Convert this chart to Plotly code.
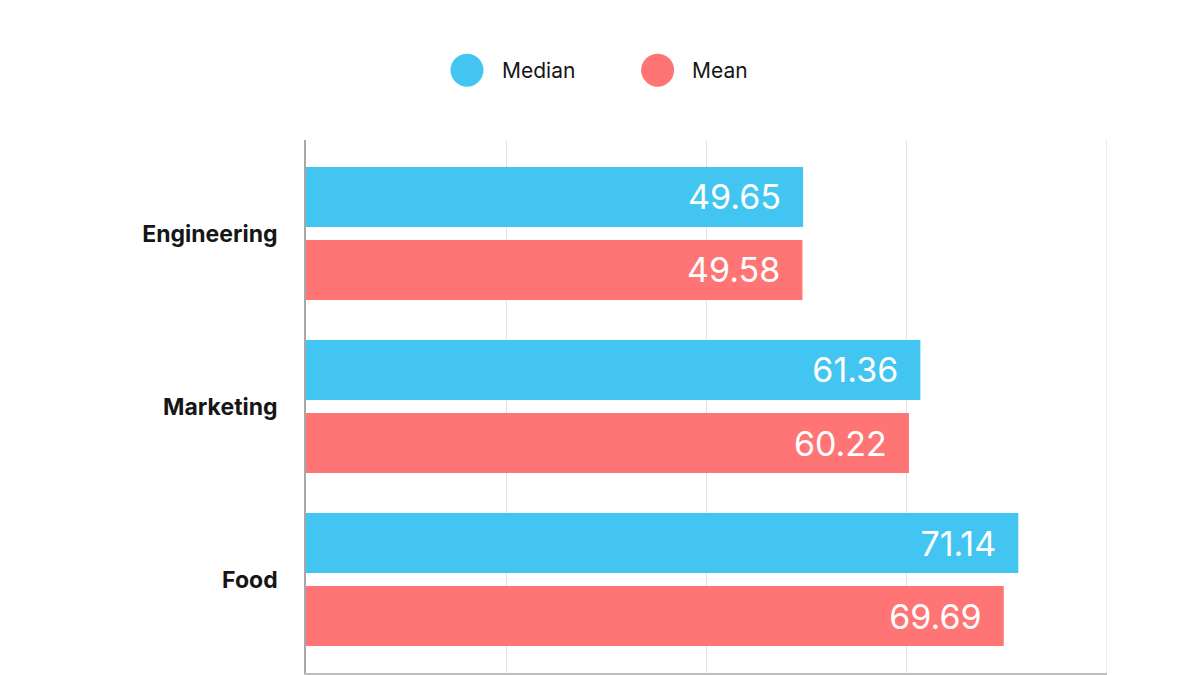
import plotly.graph_objects as go

categories = ["Engineering", "Marketing", "Food"]
median_values = [49.65, 61.36, 71.14]
mean_values = [49.58, 60.22, 69.69]
series_names = ["Median", "Mean"]
series_colors = ["#42C5F0", "#FF7575"]
x_max = 80
x_step = 20

fig = go.Figure()
for name, vals, col in zip(series_names, [median_values, mean_values], series_colors):
    fig.add_trace(go.Bar(
        name=name, y=categories, x=vals, orientation="h",
        marker=dict(color=col, line=dict(width=0)),
        text=[f"{v:.2f}\u00a0\u00a0" for v in vals],
        textposition="inside", insidetextanchor="end",
        textfont=dict(color="white", size=34, family="Inter"),
        showlegend=False, hoverinfo="skip",
    ))

fig.update_layout(
    width=1200, height=675,
    margin=dict(l=298, r=101, t=132, b=10),
    paper_bgcolor="white", plot_bgcolor="white",
    barmode="group", bargap=0.156, bargroupgap=0.178,
    xaxis=dict(range=[0, x_max], dtick=x_step, showticklabels=False, showgrid=True,
               gridcolor="#E3E3E3", gridwidth=1, zeroline=False,
               showline=True, linecolor="#BDBDBD", linewidth=1.5, mirror=False,
               ticks=""),
    yaxis=dict(type="category", range=[2.54, -0.54], showgrid=False,
               showline=True, linecolor="#A8A8A8", linewidth=1.5, ticks="",
               ticklabelstandoff=22,
               tickfont=dict(size=23, family="Inter", color="#161616", weight=700)),
)

# closing gridline at the right end of the value axis
fig.add_shape(type="line", xref="x", yref="paper", x0=x_max, x1=x_max, y0=0, y1=1,
              line=dict(color="#E3E3E3", width=1.5), layer="below")

# legend drawn as circles + labels above the plot
legend_x = [0.201, 0.439]
for lx, name, col in zip(legend_x, series_names, series_colors):
    fig.add_shape(type="circle", xref="paper", yref="paper",
                  x0=lx - 0.0206, x1=lx + 0.0206, y0=1.100, y1=1.162,
                  fillcolor=col, line=dict(width=0))
    fig.add_annotation(xref="paper", yref="paper", x=lx + 0.0406, y=1.131,
                       text=name, showarrow=False, xanchor="left", yanchor="middle",
                       font=dict(size=21, family="Inter", color="#161616"))

fig.write_html("out.html")
